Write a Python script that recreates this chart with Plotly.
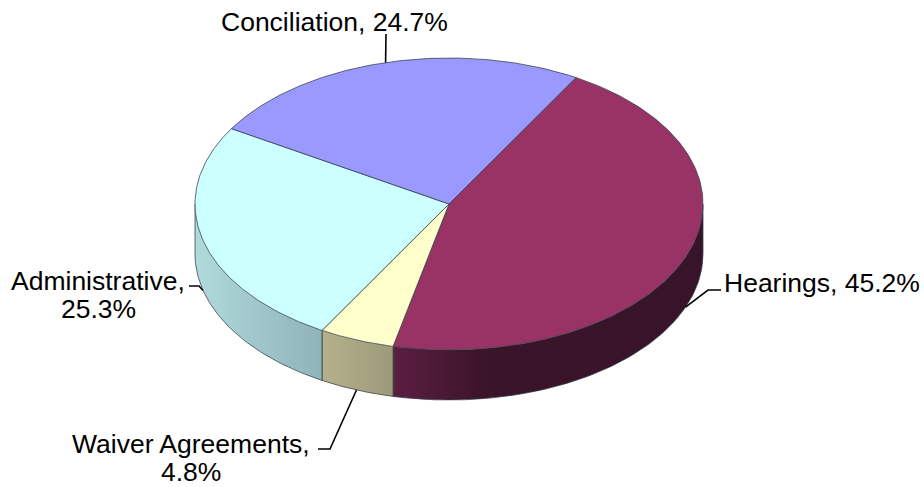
import math
import plotly.graph_objects as go

# Data
categories = ["Hearings", "Waiver Agreements", "Administrative", "Conciliation"]
values = [45.2, 4.8, 25.3, 24.7]
top_colors = ["#993366", "#FFFFCC", "#CCFFFF", "#9999FF"]
wall_scales = [
    [[0, "#5C1E42"], [0.3, "#3A1428"], [1, "#38142A"]],
    [[0, "#B5B18C"], [1, "#9C9A7A"]],
    [[0, "#B0DADB"], [1, "#8FB4BB"]],
    None,
]

# Style / layout
W, H = 924, 487
CX, CY, RX, RY, DEPTH = 449, 204, 254, 146, 50
START_DEG = 30
FONT = "Liberation Sans, Arial, sans-serif"
FS = 26.5
EDGE = "rgba(50,60,70,0.75)"
label_lines = [["Hearings, 45.2%"], ["Waiver Agreements,", "4.8%"], ["Administrative,", "25.3%"], ["Conciliation, 24.7%"]]
label_pos = [(822, 283), (191, 444), (98, 281), (334, 22)]
line_gap = 28
leader_via = [[(708, 290), (721, 290)], [(330, 449), (318, 449)], [(199, 286), (189, 286)], [(386, 34)]]


def pt(deg, drop=0.0):
    a = math.radians(deg)
    return CX + RX * math.sin(a), CY - RY * math.cos(a) + drop


def arc(a0, a1, n=None, drop=0.0):
    n = n or max(2, int(abs(a1 - a0) * 1.5))
    return [pt(a0 + (a1 - a0) * i / n, drop) for i in range(n + 1)]


fig = go.Figure()


def poly(points, fill, line="rgba(0,0,0,0)", width=0, gradient=None):
    extra = {}
    if gradient:
        extra["fillgradient"] = dict(type="horizontal", colorscale=gradient)
    else:
        extra["fillcolor"] = fill
    fig.add_trace(go.Scatter(x=[p[0] for p in points], y=[p[1] for p in points], mode="lines",
                             fill="toself", line=dict(color=line, width=width),
                             hoverinfo="skip", showlegend=False, **extra))


def path(points, color, width):
    fig.add_trace(go.Scatter(x=[p[0] for p in points], y=[p[1] for p in points], mode="lines",
                             line=dict(color=color, width=width), hoverinfo="skip", showlegend=False))


# Slice angle spans derived from the values
total = sum(values)
spans = []
cur = START_DEG
for v in values:
    nxt = cur + v / total * 360
    spans.append((cur, nxt))
    cur = nxt

# Walls: only the front half (90..270 degrees clockwise from top) is visible
for i, (a0, a1) in enumerate(spans):
    if wall_scales[i] is None:
        continue
    lo, hi = max(a0, 90), min(a1, 270)
    if hi <= lo:
        continue
    outline = arc(lo, hi) + arc(hi, lo, drop=DEPTH)
    poly(outline + [outline[0]], None, gradient=wall_scales[i])
    path(arc(lo, hi, drop=DEPTH), EDGE, 1)
    path([pt(hi), pt(hi, DEPTH)], EDGE, 1)
    path([pt(lo), pt(lo, DEPTH)], EDGE, 1)

# Top faces
for i, (a0, a1) in enumerate(spans):
    poly([(CX, CY)] + arc(a0, a1) + [(CX, CY)], top_colors[i], EDGE, 1)

# Leader lines and labels
for i, (a0, a1) in enumerate(spans):
    mid = (a0 + a1) / 2
    visible_wall = 90 < mid % 360 < 270
    anchor = pt(mid, DEPTH if visible_wall else 0)
    path([anchor] + leader_via[i], "#000000", 1.6)

annotations = []
for lines, (lx, ly) in zip(label_lines, label_pos):
    for j, t in enumerate(lines):
        annotations.append(dict(x=lx, y=ly + j * line_gap, text=t, showarrow=False,
                                xref="x", yref="y", xanchor="center", yanchor="middle",
                                font=dict(family=FONT, size=FS, color="#000000")))

fig.update_layout(
    width=W, height=H, margin=dict(l=0, r=0, t=0, b=0),
    paper_bgcolor="white", plot_bgcolor="white", showlegend=False,
    xaxis=dict(range=[0, W], visible=False, fixedrange=True),
    yaxis=dict(range=[H, 0], visible=False, fixedrange=True),
    annotations=annotations,
)
fig.write_html("out.html", config={"displayModeBar": False},
               post_script="document.body.style.margin='0';document.body.style.overflow='hidden';")
